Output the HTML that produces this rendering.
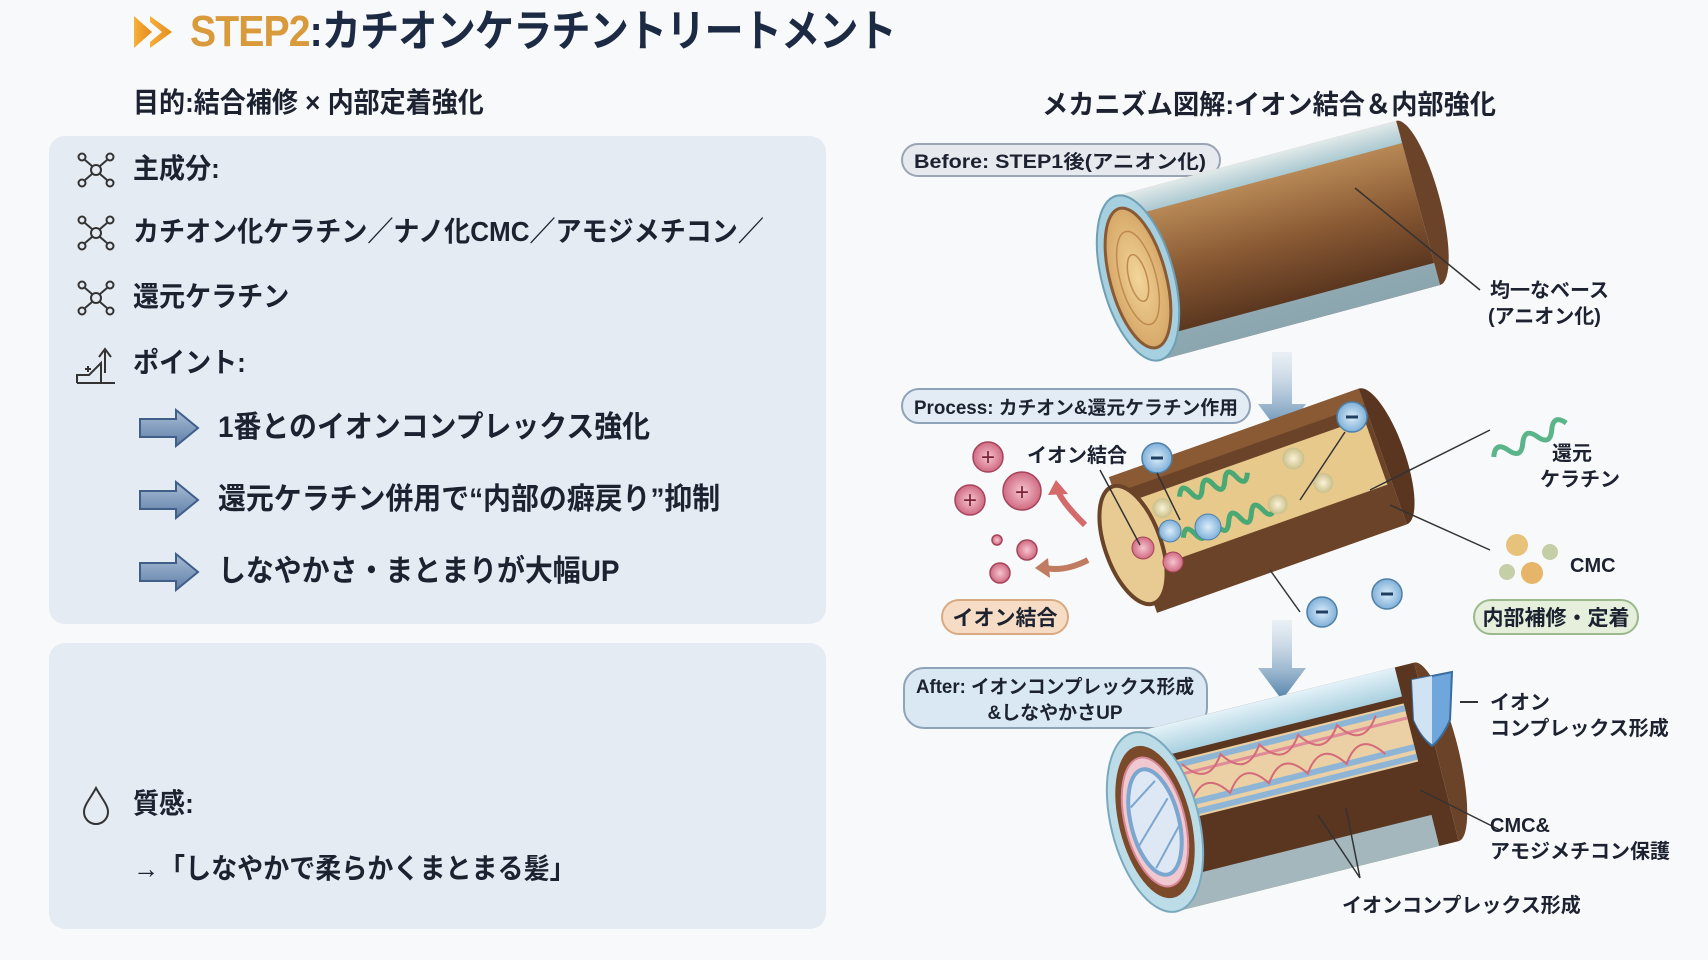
<!DOCTYPE html>
<html><head><meta charset="utf-8">
<style>
html,body{margin:0;padding:0}
body{width:1708px;height:960px;background:#f8f9fb;position:relative;overflow:hidden;font-family:"Liberation Sans","Noto Sans CJK JP",sans-serif;color:#1c2230}
.a{position:absolute;white-space:nowrap;font-weight:bold;transform-origin:0 0}
.panel{position:absolute;left:49px;width:777px;background:#e5ebf3;border-radius:16px}
.t{font-size:28px;line-height:36px;transform:scaleX(0.93)}
.p{font-size:30px;line-height:40px;transform:scaleX(0.93)}
.ar{position:absolute;left:138px;width:62px;height:40px}
</style></head><body>
<svg class="a" style="left:132px;top:12px" width="46" height="40" viewBox="0 0 46 40"><defs><linearGradient id="og" x1="0" x2="1"><stop offset="0" stop-color="#f4b13a"/><stop offset="1" stop-color="#e88a1a"/></linearGradient></defs><path d="M2 4 L20 20 L2 36 Z" fill="url(#og)"/><path d="M18 4 L40 20 L18 36 L18 30 L30 20 L18 10Z" fill="url(#og)"/></svg>
<div class="a" style="left:190px;top:4px;font-size:44px;line-height:56px;letter-spacing:-1px;transform:scaleX(0.89)"><span style="color:#d99a3c">STEP2</span><span style="color:#1d2a44">:カチオンケラチントリートメント</span></div>
<div class="a t" style="left:133px;top:85px">目的:結合補修 × 内部定着強化</div>

<div class="panel" style="top:136px;height:488px"></div>
<div class="panel" style="top:643px;height:286px"></div>

<svg class="a" style="left:76px;top:152px" width="40" height="36" viewBox="0 0 40 36" fill="none" stroke="#333" stroke-width="2"><circle cx="20" cy="18" r="5"/><circle cx="6" cy="5" r="3.5"/><circle cx="34" cy="5" r="3.5"/><circle cx="6" cy="31" r="3.5"/><circle cx="34" cy="31" r="3.5"/><path d="M9 8L16 14M31 8L24 14M9 28L16 22M31 28L24 22"/></svg>
<svg class="a" style="left:76px;top:215px" width="40" height="36" viewBox="0 0 40 36" fill="none" stroke="#333" stroke-width="2"><circle cx="20" cy="18" r="5"/><circle cx="6" cy="5" r="3.5"/><circle cx="34" cy="5" r="3.5"/><circle cx="6" cy="31" r="3.5"/><circle cx="34" cy="31" r="3.5"/><path d="M9 8L16 14M31 8L24 14M9 28L16 22M31 28L24 22"/></svg>
<svg class="a" style="left:76px;top:280px" width="40" height="36" viewBox="0 0 40 36" fill="none" stroke="#333" stroke-width="2"><circle cx="20" cy="18" r="5"/><circle cx="6" cy="5" r="3.5"/><circle cx="34" cy="5" r="3.5"/><circle cx="6" cy="31" r="3.5"/><circle cx="34" cy="31" r="3.5"/><path d="M9 8L16 14M31 8L24 14M9 28L16 22M31 28L24 22"/></svg>
<svg class="a" style="left:75px;top:343px" width="42" height="42" viewBox="0 0 42 42" fill="none" stroke="#333" stroke-width="2"><path d="M2 40H40M2 40V32H14L26 20V40"/><path d="M30 30V8M24 14L30 6L36 14"/><path d="M10 26h6M13 23v6"/></svg>
<div class="a t" style="left:133px;top:151px">主成分:</div>
<div class="a t" style="left:133px;top:214px">カチオン化ケラチン／ナノ化CMC／アモジメチコン／</div>
<div class="a t" style="left:133px;top:279px">還元ケラチン</div>
<div class="a t" style="left:133px;top:345px">ポイント:</div>

<svg class="ar" style="top:408px" viewBox="0 0 62 40"><defs><linearGradient id="bg" x1="0" y1="0" x2="0" y2="1"><stop offset="0" stop-color="#a9bdd6"/><stop offset="1" stop-color="#5e7ea6"/></linearGradient></defs><path d="M2 11H38V2L60 20L38 38V29H2Z" fill="url(#bg)" stroke="#3f5f88" stroke-width="2"/></svg>
<svg class="ar" style="top:480px" viewBox="0 0 62 40"><path d="M2 11H38V2L60 20L38 38V29H2Z" fill="url(#bg)" stroke="#3f5f88" stroke-width="2"/></svg>
<svg class="ar" style="top:552px" viewBox="0 0 62 40"><path d="M2 11H38V2L60 20L38 38V29H2Z" fill="url(#bg)" stroke="#3f5f88" stroke-width="2"/></svg>
<div class="a p" style="left:218px;top:408px">1番とのイオンコンプレックス強化</div>
<div class="a p" style="left:218px;top:480px">還元ケラチン併用で“内部の癖戻り”抑制</div>
<div class="a p" style="left:218px;top:552px">しなやかさ・まとまりが大幅UP</div>

<svg class="a" style="left:80px;top:785px" width="32" height="40" viewBox="0 0 32 40" fill="none" stroke="#333" stroke-width="2"><path d="M16 3C10 14 4 20 4 27a12 12 0 0 0 24 0C28 20 22 14 16 3Z"/></svg>
<div class="a t" style="left:133px;top:786px">質感:</div>
<div class="a t" style="left:133px;top:851px">→「しなやかで柔らかくまとまる髪」</div>

<div class="a" style="left:1042px;top:88px;font-size:27px;line-height:34px;transform:scaleX(0.97)">メカニズム図解:イオン結合＆内部強化</div>

<svg class="a" style="left:0;top:0" width="1708" height="960" viewBox="0 0 1708 960">
<defs>
<linearGradient id="wood" x1="0" y1="0" x2="0" y2="1"><stop offset="0" stop-color="#c89a62"/><stop offset="0.5" stop-color="#8a5a34"/><stop offset="1" stop-color="#4a2a18"/></linearGradient>
<linearGradient id="glass" x1="0" y1="0" x2="0" y2="1"><stop offset="0" stop-color="#e4f2f8"/><stop offset="1" stop-color="#a9d0df"/></linearGradient>
<radialGradient id="core"><stop offset="0" stop-color="#f3d59a"/><stop offset="1" stop-color="#d6a868"/></radialGradient>
<radialGradient id="pl"><stop offset="0" stop-color="#f6c6d0"/><stop offset="1" stop-color="#d06a82"/></radialGradient>
<radialGradient id="mi"><stop offset="0" stop-color="#dcedfa"/><stop offset="1" stop-color="#7fb0d8"/></radialGradient>
<radialGradient id="cm"><stop offset="0" stop-color="#fbf3d8"/><stop offset="1" stop-color="#c9bf8a"/></radialGradient>
<linearGradient id="arr" x1="0" y1="0" x2="0" y2="1"><stop offset="0" stop-color="#c7d8e6" stop-opacity="0.3"/><stop offset="1" stop-color="#4f7fa8"/></linearGradient>
</defs>
<g font-family="Liberation Sans, Noto Sans CJK JP, sans-serif" font-weight="bold" fill="#1c2230">
<rect x="902" y="144" width="318" height="32" rx="16" fill="#e6e9ee" stroke="#9aa5b3" stroke-width="2"/>
<text x="914" y="168" font-size="19" textLength="292" lengthAdjust="spacingAndGlyphs">Before: STEP1後(アニオン化)</text>
<rect x="902" y="389" width="348" height="34" rx="17" fill="#e3ecf4" stroke="#8fa3b8" stroke-width="2"/>
<text x="914" y="414" font-size="19" textLength="324" lengthAdjust="spacingAndGlyphs">Process: カチオン&amp;還元ケラチン作用</text>
<rect x="904" y="668" width="303" height="60" rx="20" fill="#d9e8f2" stroke="#8fa3b8" stroke-width="2"/>
<text x="916" y="693" font-size="19" textLength="278" lengthAdjust="spacingAndGlyphs">After: イオンコンプレックス形成</text>
<text x="1055" y="719" font-size="19" text-anchor="middle">&amp;しなやかさUP</text>

<path d="M1272 352H1292V404H1306L1282 436L1258 404H1272Z" fill="url(#arr)"/>
<path d="M1272 620H1292V668H1306L1282 700L1258 668H1272Z" fill="url(#arr)"/>

<g transform="translate(1138,278) rotate(-15)">
<rect x="0" y="-85" width="290" height="170" fill="url(#wood)"/>
<path d="M0 -85H290V-62H0Z" fill="url(#glass)" opacity="0.9"/>
<path d="M0 62H290V85H0Z" fill="#9cc6d6" opacity="0.8"/>
<path d="M290 -85A22 85 0 0 1 290 85Z" fill="#6b4328"/>
<path d="M290 -85A22 85 0 0 1 290 -62L290 -85Z" fill="#a9d0df"/>
<ellipse cx="0" cy="0" rx="36" ry="85" fill="#a6d0e0" stroke="#6e9fb4" stroke-width="2"/>
<ellipse cx="0" cy="0" rx="28" ry="72" fill="url(#core)" stroke="#8a5a34" stroke-width="3"/>
<ellipse cx="0" cy="0" rx="18" ry="48" fill="none" stroke="#c08a4e" stroke-width="1.5"/>
<ellipse cx="0" cy="0" rx="9" ry="24" fill="none" stroke="#c08a4e" stroke-width="1.5"/>
</g>
<path d="M1355 188L1480 290" stroke="#333" stroke-width="1.5"/>
<text x="1490" y="297" font-size="20">均一なベース</text>
<text x="1488" y="323" font-size="20">(アニオン化)</text>

<g transform="translate(1133,545) rotate(-19.5)">
<rect x="0" y="-72" width="265" height="144" fill="#6b4328"/>
<path d="M0 -72H265V-55H0Z" fill="#8a5a34"/>
<path d="M265 -72A22 72 0 0 1 265 72Z" fill="#5a3620"/>
<rect x="10" y="-42" width="250" height="70" fill="#e8c98c"/>
<ellipse cx="0" cy="0" rx="28" ry="62" fill="#e7cb92" stroke="#6b4328" stroke-width="4"/>
<path d="M60 -30q6 -14 12 0q6 14 12 0q6 -14 12 0q6 14 12 0q6 -14 12 0q6 14 12 0" stroke="#49a874" stroke-width="5" fill="none"/>
<path d="M50 10q6 -14 12 0q6 14 12 0q6 -14 12 0q6 14 12 0q6 -14 12 0q6 14 12 0q6 -14 12 0q6 14 12 0" stroke="#49a874" stroke-width="5" fill="none"/>
<circle cx="40" cy="-25" r="10" fill="url(#cm)"/><circle cx="180" cy="-28" r="11" fill="url(#cm)"/><circle cx="200" cy="5" r="10" fill="url(#cm)"/><circle cx="150" cy="10" r="10" fill="url(#cm)"/>
</g>
<circle cx="1170" cy="531" r="11" fill="url(#mi)" stroke="#4d7fa8"/>
<circle cx="1208" cy="527" r="13" fill="url(#mi)" stroke="#4d7fa8"/>
<circle cx="1143" cy="548" r="11" fill="url(#pl)" stroke="#a5445a"/>
<circle cx="1173" cy="562" r="10" fill="url(#pl)" stroke="#a5445a"/>
<g stroke="#a5445a" stroke-width="1.5">
<circle cx="988" cy="457" r="15" fill="url(#pl)"/><circle cx="1022" cy="491" r="19" fill="url(#pl)"/><circle cx="970" cy="500" r="15" fill="url(#pl)"/>
<circle cx="997" cy="540" r="5" fill="url(#pl)"/><circle cx="1027" cy="550" r="10" fill="url(#pl)"/><circle cx="1000" cy="573" r="10" fill="url(#pl)"/>
</g>
<g font-size="24" fill="#7a2236" text-anchor="middle" font-weight="normal"><text x="988" y="465">+</text><text x="1022" y="500">+</text><text x="970" y="508">+</text></g>
<g stroke="#4d7fa8" stroke-width="1.5" fill="url(#mi)">
<circle cx="1157" cy="458" r="15"/><circle cx="1352" cy="417" r="15"/><circle cx="1322" cy="612" r="15"/><circle cx="1387" cy="594" r="15"/>
</g>
<g stroke="#1f3f60" stroke-width="3"><path d="M1151 458h12M1346 417h12M1316 612h12M1381 594h12"/></g>
<path d="M1085 525Q1060 500 1058 490" stroke="#d46a6a" stroke-width="6" fill="none"/><path d="M1048 495L1056 480L1068 494Z" fill="#d46a6a"/>
<path d="M1088 560Q1065 572 1045 568" stroke="#c07b60" stroke-width="6" fill="none"/><path d="M1048 558L1035 568L1050 578Z" fill="#c07b60"/>
<g stroke="#333" stroke-width="1.5"><path d="M1100 470L1140 545M1157 473L1180 520M1345 432L1300 500M1490 430L1370 490M1490 550L1390 505M1270 570L1300 612"/></g>
<text x="1027" y="462" font-size="20">イオン結合</text>
<path d="M1490 440q8 -14 16 0q8 14 16 0q8 -14 16 0q8 14 16 0q8 -14 16 0" stroke="#5bb48a" stroke-width="5" fill="none" transform="rotate(-25 1530 440)"/>
<text x="1572" y="460" font-size="20" text-anchor="middle">還元</text>
<text x="1580" y="486" font-size="20" text-anchor="middle">ケラチン</text>
<circle cx="1517" cy="545" r="11" fill="#e6c27a"/><circle cx="1550" cy="552" r="8" fill="#c4cfa8"/><circle cx="1507" cy="572" r="8" fill="#c4cfa8"/><circle cx="1532" cy="573" r="11" fill="#e6b56a"/>
<text x="1570" y="572" font-size="20">CMC</text>
<rect x="942" y="600" width="126" height="34" rx="17" fill="#f6dcc4" stroke="#d9a982" stroke-width="2"/>
<text x="1005" y="625" font-size="21" text-anchor="middle">イオン結合</text>
<rect x="1474" y="600" width="164" height="34" rx="17" fill="#e5efdc" stroke="#9bb98c" stroke-width="2"/>
<text x="1556" y="625" font-size="21" text-anchor="middle">内部補修・定着</text>

<g transform="translate(1155,822) rotate(-14)">
<rect x="0" y="-92" width="290" height="184" fill="#5a3620"/>
<rect x="0" y="-92" width="270" height="30" fill="url(#glass)"/>
<path d="M0 60H270V92H0Z" fill="#b5d8e4" opacity="0.8"/>
<rect x="10" y="-55" width="260" height="60" fill="#ead0a4"/>
<path d="M10 -50H270M10 -10H270M10 0H270" stroke="#8fb5d6" stroke-width="6"/>
<path d="M10 -40H270" stroke="#e08a9a" stroke-width="3"/>
<path d="M40 -50q20 30 40 0q20 30 40 0q20 30 40 0q20 30 40 0q20 30 40 0" stroke="#d46a7a" stroke-width="2" fill="none"/>
<path d="M40 -10q20 -30 40 0q20 -30 40 0q20 -30 40 0q20 -30 40 0q20 -30 40 0" stroke="#d46a7a" stroke-width="2" fill="none"/>
<path d="M290 -92A22 92 0 0 1 290 92Z" fill="#6b4328"/>
<ellipse cx="0" cy="0" rx="44" ry="92" fill="#bcdde8" stroke="#7aa9bd" stroke-width="2"/>
<ellipse cx="0" cy="0" rx="36" ry="78" fill="#7a4a2a"/>
<ellipse cx="0" cy="0" rx="30" ry="66" fill="#f0c8d0" stroke="#d58798" stroke-width="2"/>
<ellipse cx="0" cy="0" rx="24" ry="54" fill="#dde8f4" stroke="#7aa6d0" stroke-width="4"/>
<path d="M-20 -20L10 -40M-22 20L18 -20M-10 45L22 10" stroke="#7aa6d0" stroke-width="2"/>
</g>
<path d="M1412 680L1452 672L1450 720Q1442 738 1432 746Q1422 738 1414 720Z" fill="#6fa6dc" stroke="#3a6d9e" stroke-width="2"/>
<path d="M1432 676L1432 744Q1422 738 1414 720L1412 680Z" fill="#cfe3f5"/>
<path d="M1460 702H1478" stroke="#333" stroke-width="2"/>
<text x="1490" y="709" font-size="20">イオン</text>
<text x="1490" y="735" font-size="20">コンプレックス形成</text>
<g stroke="#333" stroke-width="1.5"><path d="M1420 790L1500 830M1318 815L1360 878M1346 808L1360 878"/></g>
<text x="1490" y="832" font-size="20">CMC&amp;</text>
<text x="1490" y="858" font-size="20">アモジメチコン保護</text>
<text x="1342" y="912" font-size="20">イオンコンプレックス形成</text>
</g>
</svg>
</body></html>
